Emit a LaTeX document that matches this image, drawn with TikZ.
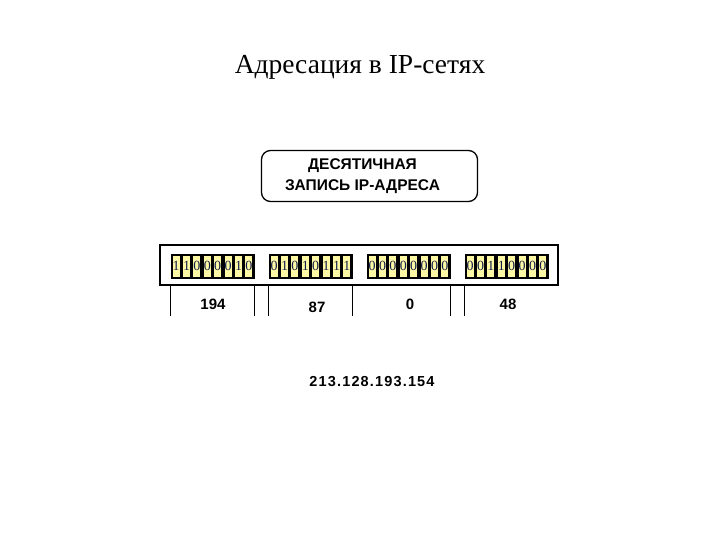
\documentclass[tikz,border=0pt]{standalone}
\usepackage{fontspec}
\setmainfont{Liberation Serif}
\setsansfont{Liberation Sans}
\newfontfamily\addrfont[LetterSpace=8]{Liberation Sans}
\usetikzlibrary{positioning}
\definecolor{cellyellow}{RGB}{255,248,165}
\definecolor{bitblue}{RGB}{15,30,75}

\begin{document}
\begin{tikzpicture}[x=1pt,y=-1pt,
	group/.style={fill=black, rectangle, minimum width=84pt, minimum height=25pt, inner sep=0pt},
	bit/.style={fill=cellyellow, rectangle, minimum width=7pt, minimum height=21pt, inner sep=0pt,
		font=\fontsize{14}{14}\selectfont, text=bitblue},
	value/.style={font=\sffamily\bfseries\fontsize{15}{15}\selectfont}]
	\useasboundingbox (0,0) rectangle (720,540);
	\node [font=\fontsize{27.5}{27.5}\selectfont] (n0) at (360,67) {Адресация в IP-сетях};
	\node [draw, rectangle, rounded corners=9pt, line width=1.3pt, minimum width=216pt, minimum height=51pt] (n1) at (369.5,176) {};
	\node [align=center, font=\sffamily\bfseries\fontsize{15.5}{21}\selectfont] (n2) at (362.5,176) {ДЕСЯТИЧНАЯ\\ЗАПИСЬ IP-АДРЕСА};
	\node [draw, rectangle, line width=1.8pt, minimum width=398pt, minimum height=40pt] (n3) at (359,265) {};
	% four octets, eight bits each
	\foreach \g/\gx/\bits in {1/212.5/{1,1,0,0,0,0,1,0}, 2/310.5/{0,1,0,1,0,1,1,1},
			3/408.5/{0,0,0,0,0,0,0,0}, 4/506.5/{0,0,1,1,0,0,0,0}} {
		\node [group] (g\g) at (\gx,266) {};
		\foreach \b [count=\i] in \bits
			\node [bit] (b\g-\i) at (\gx-46.8+10.4*\i,266) {\b};
	}
	\foreach \p in {g1.west, g1.east, g2.west, g2.east, g3.east, g4.west}
		\draw [line width=0.8pt] (n3.south -| \p) -- +(0,30);
	\node [value] (v1) at (213,304) {194};
	\node [value] (v2) at (317,307) {87};
	\node [value] (v3) at (410,304) {0};
	\node [value] (v4) at (508,304) {48};
	\node [font=\addrfont\bfseries\fontsize{14.5}{14.5}\selectfont] (n4) at (372,382) {213.128.193.154};
\end{tikzpicture}
\end{document}
